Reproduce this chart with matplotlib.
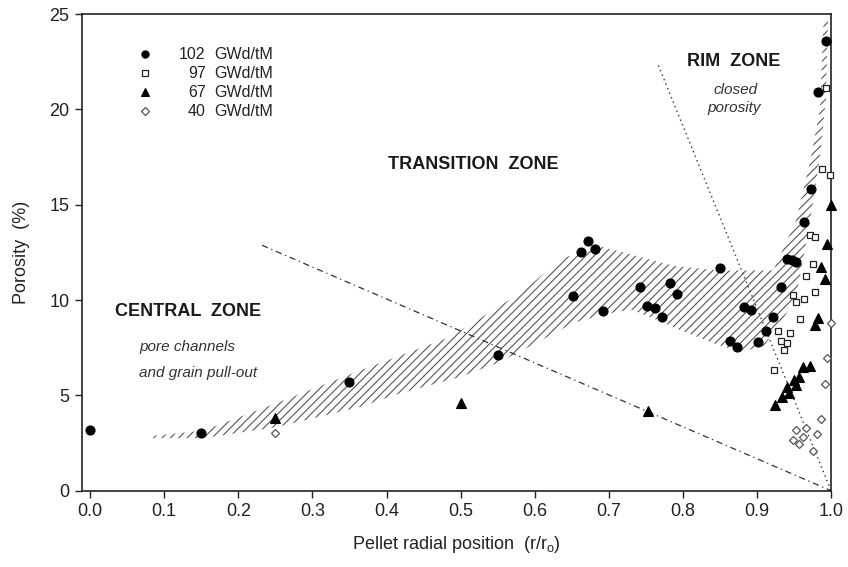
import matplotlib
matplotlib.use("Agg")
import matplotlib.pyplot as plt
from matplotlib.patches import Polygon

plt.rcParams['font.family'] = ['Liberation Sans', 'DejaVu Sans']
plt.rcParams['mathtext.default'] = 'regular'
plt.rcParams['hatch.linewidth'] = 0.8

# data: (r/r0, porosity %)
bu102_x = [0.0, 0.15, 0.35, 0.55, 0.652, 0.662, 0.672, 0.682, 0.692, 0.742, 0.752, 0.762,
           0.772, 0.783, 0.792, 0.85, 0.863, 0.873, 0.882, 0.892, 0.902, 0.912, 0.922,
           0.932, 0.941, 0.947, 0.953, 0.963, 0.973, 0.982, 0.993]
bu102_y = [3.2, 3.0, 5.7, 7.1, 10.2, 12.5, 13.1, 12.7, 9.4, 10.7, 9.7, 9.6,
           9.1, 10.9, 10.3, 11.7, 7.85, 7.55, 9.65, 9.45, 7.8, 8.35, 9.1,
           10.7, 12.15, 12.1, 12.0, 14.1, 15.8, 20.9, 23.6]

bu97_x = [0.993, 0.988, 0.999, 0.971, 0.979, 0.976, 0.966, 0.979, 0.949, 0.953,
          0.963, 0.958, 0.928, 0.945, 0.932, 0.941, 0.937, 0.923]
bu97_y = [21.1, 16.85, 16.55, 13.4, 13.3, 11.9, 11.25, 10.4, 10.25, 9.9,
          10.05, 9.0, 8.35, 8.25, 7.85, 7.75, 7.4, 6.35]

bu67_x = [0.25, 0.5, 0.753, 1.0, 0.995, 0.987, 0.992, 0.982, 0.978, 0.972, 0.962,
          0.957, 0.95, 0.953, 0.94, 0.943, 0.934, 0.925]
bu67_y = [3.8, 4.6, 4.2, 15.0, 12.95, 11.75, 11.1, 9.05, 8.7, 6.55, 6.5,
          5.95, 5.8, 5.55, 5.42, 5.12, 4.9, 4.5]

bu40_x = [0.25, 1.0, 0.995, 0.992, 0.987, 0.981, 0.975, 0.966, 0.953, 0.962, 0.949, 0.957]
bu40_y = [3.0, 8.8, 6.95, 5.58, 3.78, 2.98, 2.07, 3.3, 3.17, 2.8, 2.68, 2.45]

# hatched trend band outline
band_x = [0.078, 0.153, 0.252, 0.364, 0.486, 0.58, 0.638, 0.69, 0.787, 0.846, 0.922,
          0.953, 0.972, 0.985, 0.99, 0.996,
          0.993, 0.985, 0.972, 0.955, 0.94, 0.91,
          0.877, 0.841, 0.796, 0.756, 0.73, 0.70, 0.652, 0.60, 0.55, 0.499, 0.418,
          0.364, 0.252, 0.153, 0.078]
band_y = [2.85, 3.15, 4.6, 6.3, 8.06, 10.35, 12.2, 12.8, 11.8, 11.55, 11.55,
          14.2, 17.3, 20.0, 24.6, 25.0,
          20.5, 17.5, 14.2, 10.6, 9.3, 7.6,
          7.27, 7.74, 8.43, 9.1, 9.5, 9.3, 8.8, 7.7, 6.7, 5.96, 5.1,
          4.39, 3.34, 2.76, 2.75]

# zone boundary lines
dashdot_x = [0.232, 1.0]
dashdot_y = [12.87, 0.0]
dotted_x = [0.767, 1.0]
dotted_y = [22.3, 0.0]

legend_labels = ['102', '97', '67', '40']

fig = plt.figure(figsize=(8.48, 5.67), dpi=100)
ax = fig.add_axes([0.0967, 0.1346, 0.8833, 0.8407])

band = Polygon(list(zip(band_x, band_y)), closed=True, facecolor='none',
               edgecolor='#555555', linewidth=0, hatch='////', zorder=1)
ax.add_patch(band)

ax.plot(dashdot_x, dashdot_y, color='#333333', lw=0.9,
        linestyle=(0, (5, 3, 1, 3)), zorder=2)
ax.plot(dotted_x, dotted_y, color='#333333', lw=1.0,
        linestyle=(0, (1, 2.5)), zorder=2)

styles = [
    dict(marker='o', ms=6.5, mfc='black', mec='black', mew=0.8),
    dict(marker='s', ms=5, mfc='white', mec='#222222', mew=0.9),
    dict(marker='^', ms=6.5, mfc='black', mec='black', mew=0.8),
    dict(marker='D', ms=4.3, mfc='white', mec='#555555', mew=0.9),
]
series = [(bu102_x, bu102_y), (bu97_x, bu97_y), (bu67_x, bu67_y), (bu40_x, bu40_y)]
for (sx, sy), st in zip(series, styles):
    ax.plot(sx, sy, linestyle='none', clip_on=False, zorder=4, **st)

# hand-placed legend
leg_y = [22.9, 21.9, 20.9, 19.9]
leg_ms = [5.2, 4.0, 5.2, 3.6]
for lab, ly, st, ms in zip(legend_labels, leg_y, styles, leg_ms):
    s = dict(st)
    s['ms'] = ms
    ax.plot([0.074], [ly], linestyle='none', zorder=4, **s)
    ax.text(0.156, ly, lab, ha='right', va='center', fontsize=11.5, color='#222222')
    ax.text(0.168, ly, 'GWd/tM', ha='left', va='center', fontsize=11.5, color='#222222')

# zone annotations
ax.text(0.034, 9.4, 'CENTRAL  ZONE', fontsize=13, fontweight='bold', va='center', color='#1a1a1a')
ax.text(0.066, 7.55, 'pore channels', fontsize=11, style='italic', va='center', color='#333333')
ax.text(0.066, 6.17, 'and grain pull-out', fontsize=11, style='italic', va='center', color='#333333')
ax.text(0.402, 17.1, 'TRANSITION  ZONE', fontsize=13, fontweight='bold', va='center', color='#1a1a1a')
ax.text(0.806, 22.5, 'RIM  ZONE', fontsize=13, fontweight='bold', va='center', color='#1a1a1a')
ax.text(0.871, 21.0, 'closed', fontsize=11, style='italic', ha='center', va='center', color='#333333')
ax.text(0.869, 20.05, 'porosity', fontsize=11, style='italic', ha='center', va='center', color='#333333')

ax.set_xlim(-0.011, 1.0)
ax.set_ylim(0, 25)
ax.set_xticks([i / 10 for i in range(11)])
ax.set_xticklabels(['%.1f' % (i / 10) for i in range(11)])
ax.set_yticks([0, 5, 10, 15, 20, 25])
ax.tick_params(direction='out', length=5, width=1, labelsize=13, colors='#222222', pad=4)
for sp in ax.spines.values():
    sp.set_linewidth(1.2)
    sp.set_color('#222222')

ax.set_xlabel('Pellet radial position  (r/r$_o$)', fontsize=13, color='#222222', labelpad=10)
ax.set_ylabel('Porosity  (%)', fontsize=13, color='#222222', labelpad=14)

fig.savefig('out.png', dpi=100)
